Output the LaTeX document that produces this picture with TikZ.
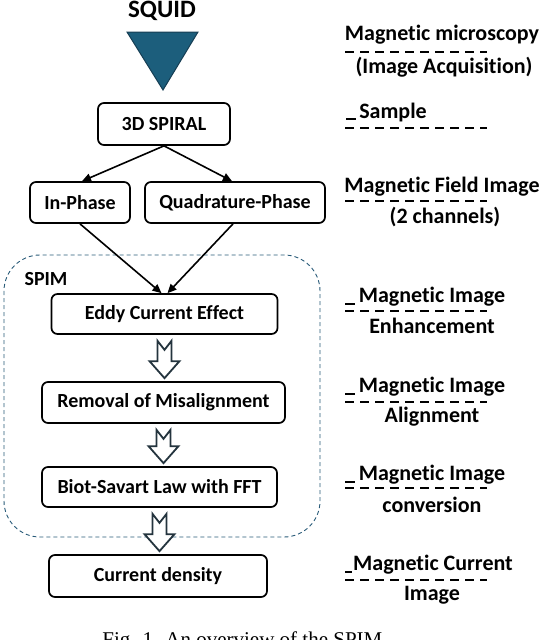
\documentclass[tikz,border=0pt]{standalone}
\usepackage{fontspec}
\setmainfont{Carlito}[Ligatures = NoCommon]
\newfontfamily\captionfont{Liberation Serif}
\usetikzlibrary{arrows.meta,calc}

\definecolor{squidblue}{RGB}{28,94,124}
\definecolor{squidedge}{RGB}{22,62,84}
\definecolor{spimline}{RGB}{40,90,120}
\definecolor{hollowedge}{RGB}{36,52,62}

% block arrow from the bottom of one box to the top of the next
\newcommand{\hollowarrow}[2]{%
  \draw[hollow] let \p1 = (#1.south), \p2 = (#2.north) in
    (\x1-7pt,\y1-6pt) -- (\x1,\y1-15pt) -- (\x1+7pt,\y1-6pt) -- (\x1+7pt,\y2+20pt)
    -- (\x1+15pt,\y2+20pt) -- (\x1,\y2+3pt) -- (\x1-15pt,\y2+20pt) -- (\x1-7pt,\y2+20pt) -- cycle;}

\begin{document}
\begin{tikzpicture}[x = 1pt, y = -1pt,
                    procbox/.style = {shape = rectangle,
                                      draw,
                                      rounded corners = 6pt,
                                      line width = 1.7pt,
                                      inner sep = 0pt,
                                      font = \fontsize{20}{24}\selectfont\bfseries},
                    sidetext/.style = {inner sep = 0pt,
                                       font = \fontsize{22}{26}\selectfont\bfseries},
                    sepline/.style = {line width = 2pt,
                                      dash pattern = on 9pt off 6pt},
                    flow/.style = {line width = 1.6pt,
                                   -{Triangle[length = 9pt, width = 8pt]}},
                    hollow/.style = {draw = hollowedge,
                                     fill = white,
                                     line width = 1.8pt,
                                     line join = miter}]
		\useasboundingbox (0,0) rectangle (546,640);

		% left column
		\node[sidetext, font = \fontsize{25}{28}\selectfont\bfseries] (squid) at (162,11) {SQUID};
		\fill[squidblue, draw = squidedge, line width = 1pt] (127,32) -- (198,32) -- (163,90) -- cycle;

		\node[procbox, minimum width = 132pt, minimum height = 42pt] (spiral) at (164,124) {3D SPIRAL};
		\node[procbox, minimum width = 100pt, minimum height = 41pt] (inphase) at (80,202.5) {In-Phase};
		\node[procbox, minimum width = 180pt, minimum height = 41pt] (quadphase) at (235,202.5) {Quadrature-Phase};

		\draw[spimline, line width = 0.9pt, dash pattern = on 4pt off 3pt, rounded corners = 36pt]
			(4,255) rectangle (320,537);
		\node[sidetext, font = \fontsize{20}{24}\selectfont\bfseries] (spim) at (46,279) {SPIM};

		\node[procbox, minimum width = 226pt, minimum height = 40pt] (eddy) at (164.5,314) {Eddy Current Effect};
		\node[procbox, minimum width = 243pt, minimum height = 41pt] (misalign) at (163.5,402.5) {Removal of Misalignment};
		\node[procbox, minimum width = 235pt, minimum height = 40pt] (biot) at (159.5,487) {Biot-Savart Law with FFT};
		\node[procbox, minimum width = 218pt, minimum height = 42pt] (density) at (158,576) {Current density};

		\draw[flow] (spiral.south) -- ([xshift = 2pt]inphase.north);
		\draw[flow] (spiral.south) -- ([xshift = -3pt]quadphase.north);
		\draw[flow] (inphase.south) -- ([xshift = -3pt]eddy.north);
		\draw[flow] ([xshift = -2pt]quadphase.south) -- ([xshift = 3pt]eddy.north);

		\hollowarrow{eddy}{misalign}
		\hollowarrow{misalign}{biot}
		\hollowarrow{biot}{density}

		% right column
		\node[sidetext] (microscopy) at (442,35) {Magnetic microscopy};
		\node[sidetext] (acquisition) at (444,67) {(Image Acquisition)};
		\node[sidetext] (sample) at (393,113) {Sample};
		\node[sidetext] (fieldimage) at (442,187) {Magnetic Field Image};
		\node[sidetext] (channels) at (445,217) {(2 channels)};
		\node[sidetext] (enhimage) at (432,297) {Magnetic Image};
		\node[sidetext] (enhancement) at (432,326) {Enhancement};
		\node[sidetext] (alignimage) at (432,387) {Magnetic Image};
		\node[sidetext] (alignment) at (432,417) {Alignment};
		\node[sidetext] (convimage) at (432,475) {Magnetic Image};
		\node[sidetext] (conversion) at (432,505) {conversion};
		\node[sidetext] (currimage) at (433,565) {Magnetic Current};
		\node[sidetext] (image) at (432,595) {Image};

		\draw[sepline] (345,52) -- (487,52);
		\draw[sepline] (345,128) -- (487,128);
		\draw[sepline] (345,201) -- (487,201);
		\draw[sepline] (345,311) -- (487,311);
		\draw[sepline] (345,402) -- (487,402);
		\draw[sepline] (345,488) -- (487,488);
		\draw[sepline] (345,580) -- (487,580);

		% underscores in front of some labels
		\draw[line width = 2pt] (346,119) -- (356,119);
		\draw[line width = 2pt] (345,304) -- (355,304);
		\draw[line width = 2pt] (345,394) -- (355,394);
		\draw[line width = 2pt] (345,482) -- (355,482);
		\draw[line width = 2pt] (345,572) -- (352,572);

		% caption, cut by the page edge
		\node[anchor = base, inner sep = 0pt, font = \captionfont\fontsize{21}{24}\selectfont] (caption) at (245,646)
			{Fig. 1. An overview of the SPIM.};
	\end{tikzpicture}
\end{document}
